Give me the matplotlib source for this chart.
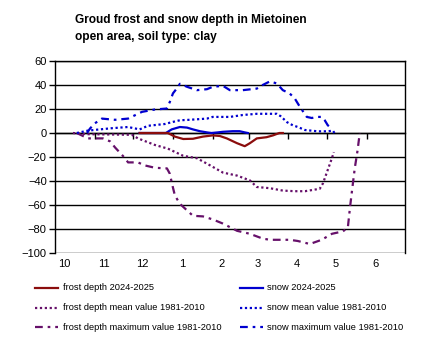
import matplotlib
matplotlib.use("Agg")
import matplotlib.pyplot as plt
from matplotlib.lines import Line2D

plt.rcParams['font.family'] = ['Liberation Sans', 'DejaVu Sans']

# x values: days since 1 October
month_labels = ["10", "11", "12", "1", "2", "3", "4", "5", "6"]
month_starts = [0, 31, 61, 92, 123, 151, 182, 212, 243]
season_end = 273

frost_2024_x = [66, 88, 93.5, 100, 107.6, 115.4, 123, 128.6, 134, 142, 148, 152, 157.4, 165, 170, 175, 177.7]
frost_2024_y = [0, 0, -3, -5, -4.8, -3, -2, -2.5, -4.5, -8.5, -11, -8.5, -4.5, -3.5, -2, 0, 0]

snow_2024_x = [66, 86.5, 91, 97.4, 103, 107.6, 113, 118.5, 122, 127, 131, 138.7, 144, 148, 150.4]
snow_2024_y = [0, 0, 3, 5, 4.5, 3, 1.5, 0.5, 0, 0.5, 1, 1.5, 1.5, 0.5, 0]

frost_mean_x = [14, 25.7, 60, 64.7, 78, 88, 100, 110.7, 121, 131, 142, 152, 157.4, 167.6,
                177.7, 187, 195, 206.5, 209, 212, 216, 217.5]
frost_mean_y = [0, -1, -1.5, -4.5, -10, -13, -19, -21, -27, -33, -35.5, -39.5, -45, -46,
                -48, -48.5, -48.5, -46.5, -42, -33, -21, -16]

frost_max_x = [17, 25.7, 37.4, 43, 46.8, 54.6, 57, 64.7, 70, 78, 87.3, 89.6, 91.2, 93.5, 97.4,
               103, 107.6, 115.4, 123, 131, 142, 152, 162, 167.6, 183, 189.4, 198.8, 208, 216,
               224.5, 228.4, 230, 231.5, 233.8, 236, 237.7]
frost_max_y = [0, -4.5, -4.5, -7, -12, -21, -24.5, -24.5, -27, -29, -29.5, -34, -42, -52, -59,
               -64.5, -69, -69.5, -72, -75.5, -81.5, -84, -88, -89, -89, -90, -92.5, -89, -84,
               -82, -79, -63, -49.5, -29.5, -14.5, 0]

snow_mean_x = [17, 25.7, 35, 44.4, 57, 66, 72.5, 85.7, 91, 97.4, 105, 118.5, 123, 136.4, 146.5,
               157.4, 173, 176, 181, 185.5, 189.4, 195, 205, 212.8, 216.7, 218]
snow_mean_y = [0, 2, 3, 4, 5, 3, 6, 7.5, 9, 10.6, 11, 12, 13.4, 13.4, 15, 16, 16, 14, 9, 6.4,
               5, 2.5, 1.4, 1.4, 2, 0]

snow_max_x = [25, 27.3, 31, 36.6, 46.8, 57, 62.4, 67.8, 78, 87.3, 89.6, 92, 96, 97.4, 103,
              110.7, 118.5, 123, 131, 136.4, 146.5, 157.4, 162, 167.6, 173, 177.7, 183, 187,
              191, 196.4, 200.3, 204, 208, 210.4, 212.8, 216]
snow_max_y = [0, 3.7, 8, 12, 11, 12, 14.8, 17.6, 19.6, 20.4, 26, 33, 38.5, 41, 38.5, 35.7,
              36.5, 38.5, 39.3, 35.7, 35.7, 37, 40, 43, 41.3, 35.7, 33, 28.8, 21.8, 13.4, 12.5,
              13.4, 13.4, 10.6, 6.4, 3.7]

legend_labels = ["frost depth 2024-2025", "frost depth mean value 1981-2010",
                 "frost depth maximum value 1981-2010", "snow 2024-2025",
                 "snow mean value 1981-2010", "snow maximum value 1981-2010"]

W, H = 430, 352
fig = plt.figure(figsize=(W / 100, H / 100), dpi=100)
ax = fig.add_axes([55 / W, 1 - 253 / H, 350 / W, 192 / H])

RED = "#8b0d0d"
PURPLE = "#66106a"
BLUE = "#0000d0"
dot = (0, (1, 1.2))
dashdot = (0, (3.5, 2.2, 1.2, 2.2))

styles = [
    (frost_2024_x, frost_2024_y, RED, '-', 1.6),
    (frost_mean_x, frost_mean_y, PURPLE, dot, 1.6),
    (frost_max_x, frost_max_y, PURPLE, dashdot, 1.6),
    (snow_2024_x, snow_2024_y, BLUE, '-', 1.6),
    (snow_mean_x, snow_mean_y, BLUE, dot, 1.6),
    (snow_max_x, snow_max_y, BLUE, dashdot, 1.6),
]
draw_order = [1, 2, 4, 5, 3, 0]
for i in draw_order:
    xs, ys, c, ls, lw = styles[i]
    ax.plot(xs, ys, color=c, linestyle=ls, linewidth=lw, zorder=3)

ax.set_xlim(0, season_end)
ax.set_ylim(-100, 60)
ax.set_yticks(range(-100, 61, 20))
ax.yaxis.grid(True, color='black', linewidth=1.0)
ax.set_axisbelow(True)
ax.tick_params(axis='y', direction='out', length=4, width=1, labelsize=8, pad=2, colors='black')

# bottom spine placed at zero, with month boundary ticks
ax.spines['bottom'].set_position(('data', 0))
ax.spines['bottom'].set_zorder(2)
ax.set_xticks(month_starts[1:])
ax.tick_params(axis='x', direction='out', length=4, width=1, labelbottom=False)
for s in ['left', 'right', 'top', 'bottom']:
    ax.spines[s].set_linewidth(1.0)
    ax.spines[s].set_color('black')

sec = ax.secondary_xaxis('bottom')
sec.set_xticks([m + 7 for m in month_starts])
sec.set_xticklabels(month_labels)
sec.tick_params(length=0, labelsize=8, pad=4)
sec.spines['bottom'].set_visible(False)

# title
fig.text(75 / W, 1 - 20 / H, "Groud frost and snow depth in Mietoinen", fontsize=8.6,
         fontweight='bold', ha='left', va='center')
fig.text(75 / W, 1 - 37 / H, "open area, soil type: clay", fontsize=8.6,
         fontweight='bold', ha='left', va='center')

# legend (two columns)
cols = [(35, 63), (240, 267)]
rows = [288, 307.5, 327]
for k, lab in enumerate(legend_labels):
    _, _, c, ls, lw = styles[k]
    hx, tx = cols[k // 3]
    y = 1 - rows[k % 3] / H
    fig.add_artist(Line2D([hx / W, (hx + 23) / W], [y, y], color=c, linestyle=ls,
                          linewidth=lw, transform=fig.transFigure))
    fig.text(tx / W, y, lab, fontsize=6.7, ha='left', va='center')

fig.savefig("out.png", dpi=100)
